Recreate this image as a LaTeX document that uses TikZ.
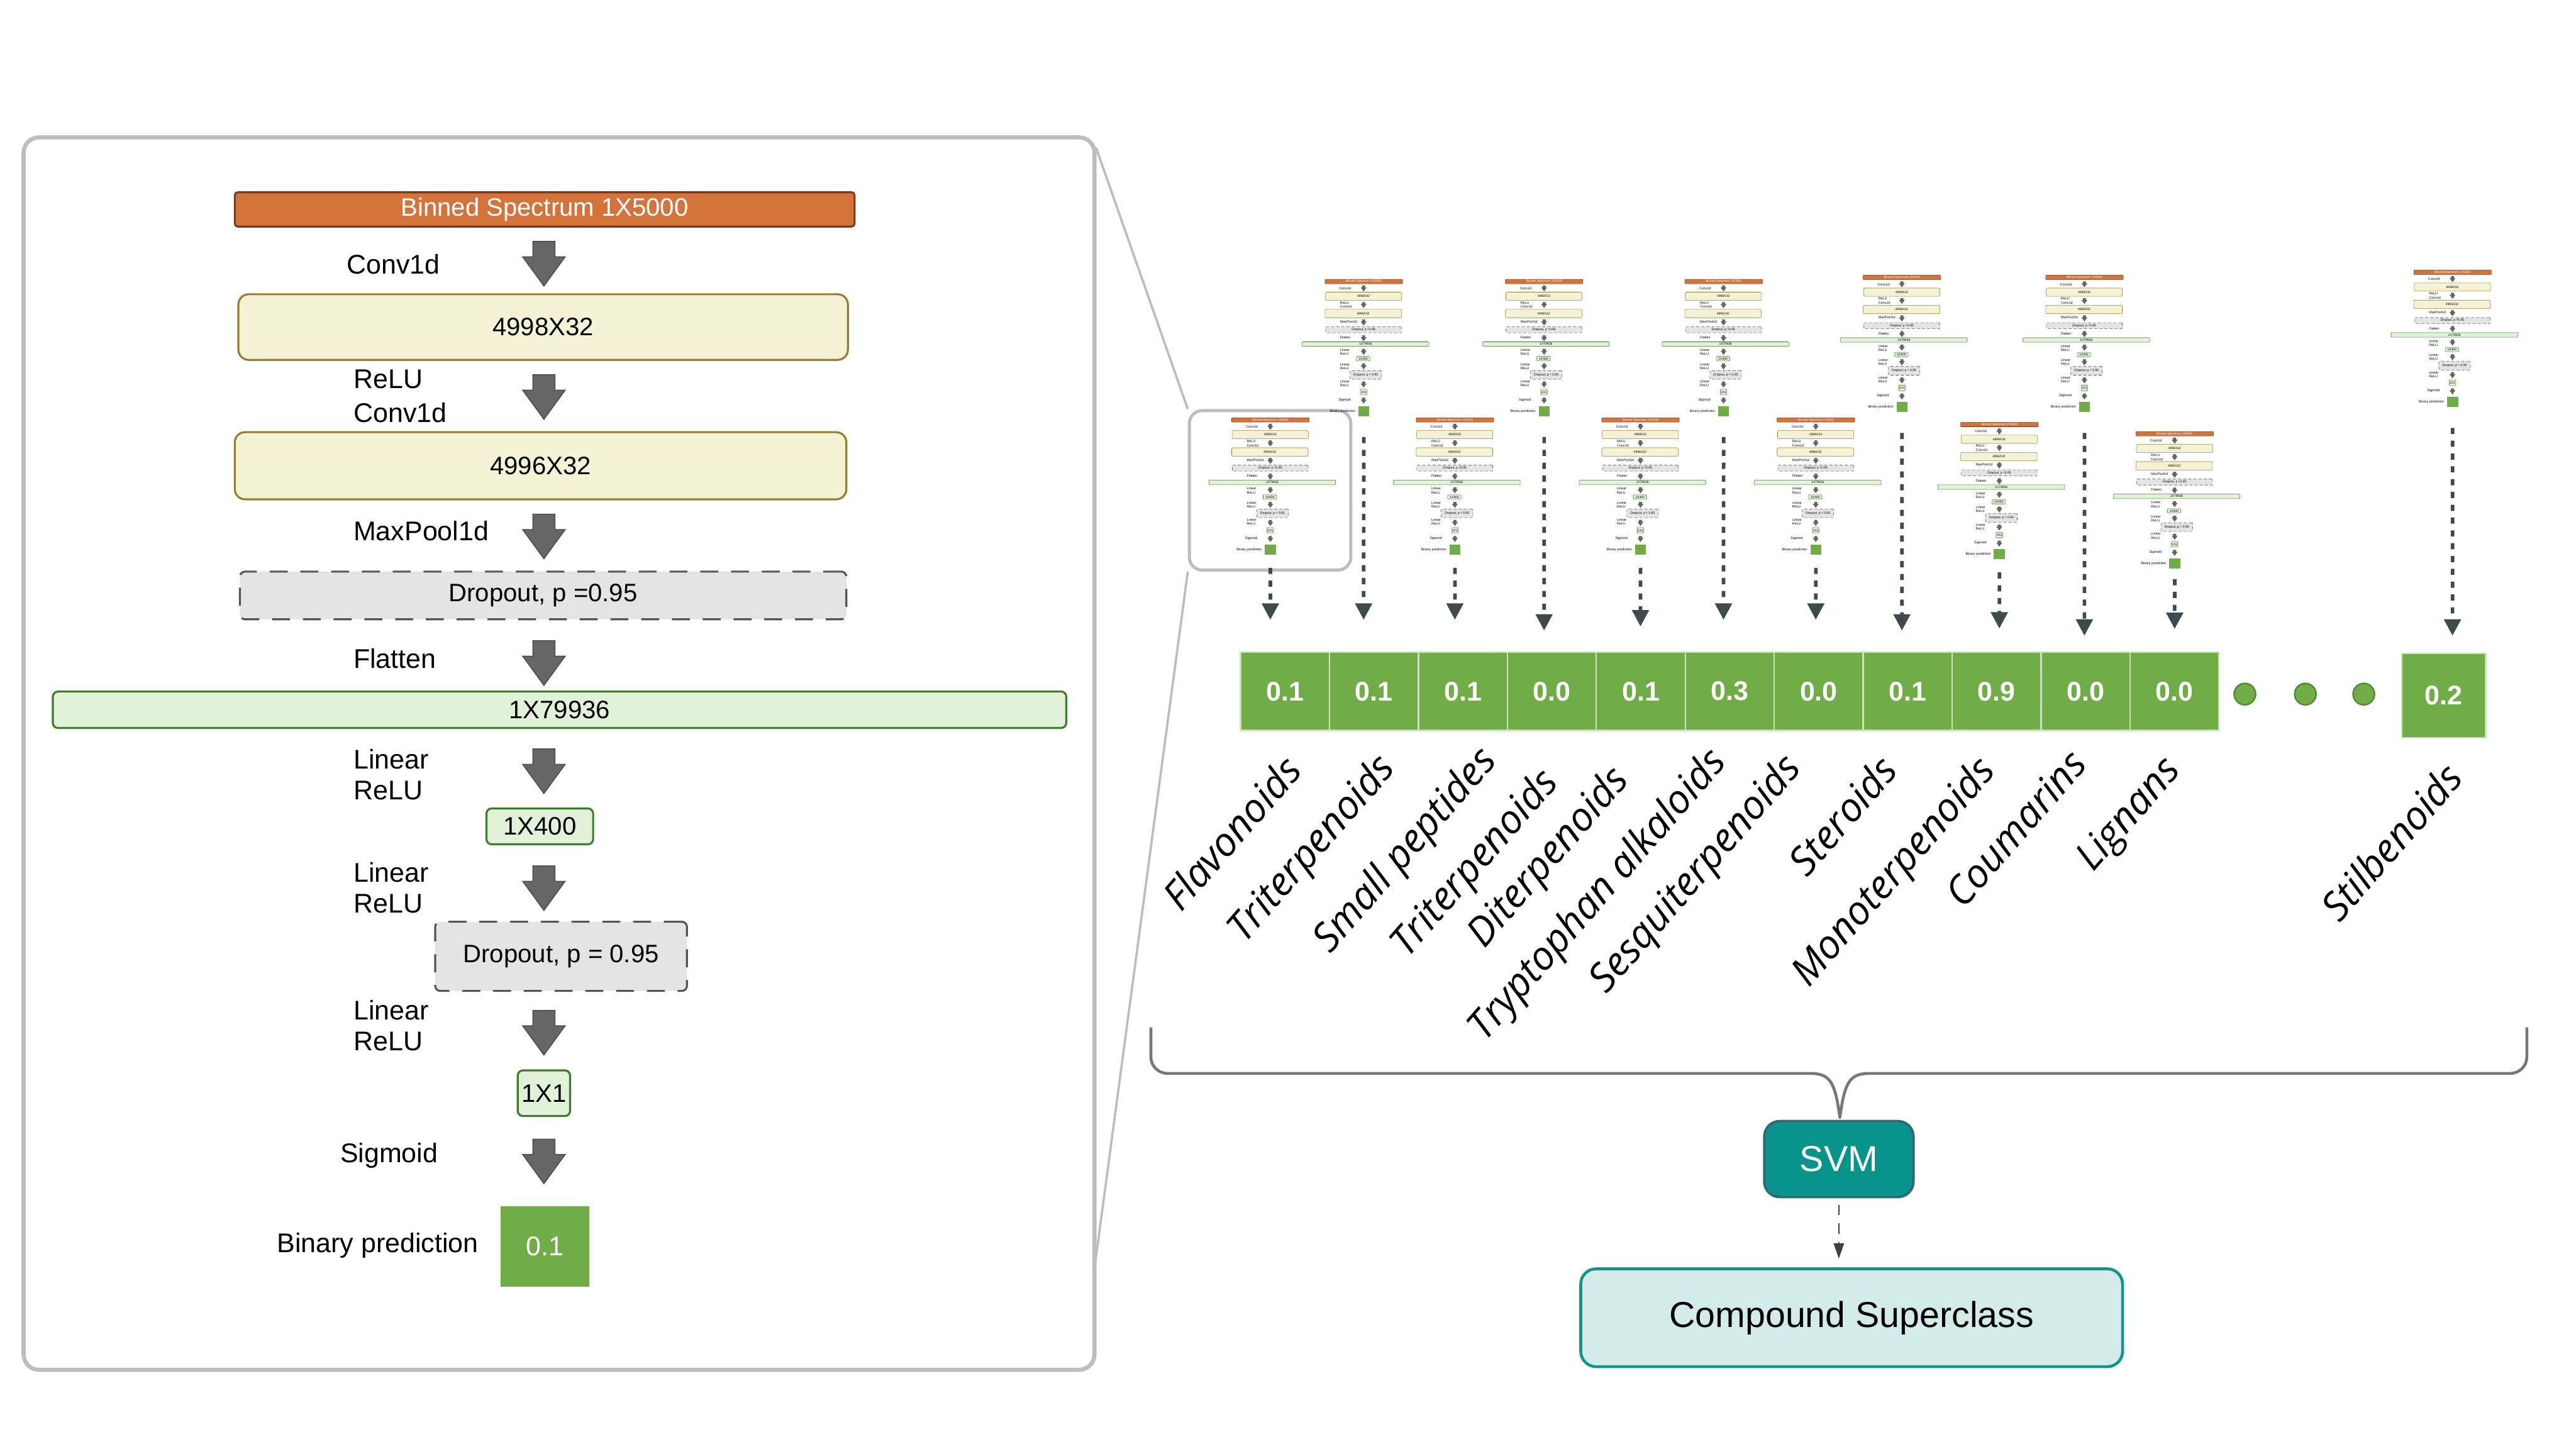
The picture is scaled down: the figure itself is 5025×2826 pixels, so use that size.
\documentclass[tikz,border=0pt]{standalone}
\usepackage{fontspec}
\setmainfont{Liberation Sans}
\newfontfamily\labfont{Open Sans}
\usetikzlibrary{arrows.meta}
\definecolor{orfill}{HTML}{D4733A}
\definecolor{ordraw}{HTML}{7A3B1C}
\definecolor{ylfill}{HTML}{F5F3D6}
\definecolor{yldraw}{HTML}{9A7D2C}
\definecolor{drfill}{HTML}{E4E4E4}
\definecolor{drdraw}{HTML}{555555}
\definecolor{gnfill}{HTML}{E1F2D9}
\definecolor{gndraw}{HTML}{3E7B2C}
\definecolor{bargreen}{HTML}{70AD47}
\definecolor{bardark}{HTML}{4F8A30}
\definecolor{arrgray}{HTML}{666666}
\definecolor{arrdark}{HTML}{4A4A4A}
\definecolor{panelgray}{HTML}{BDBDBD}
\definecolor{dashc}{HTML}{3F4A4A}
\definecolor{svmfill}{HTML}{08948A}
\definecolor{svmdraw}{HTML}{2E6B76}
\definecolor{csfill}{HTML}{D3ECE9}
\definecolor{csdraw}{HTML}{0F968C}
\definecolor{bracegray}{HTML}{777777}
\def\nlw{1.1pt}
\def\ndon{3.5mm}
\def\ndoff{2.5mm}
\def\alw{0.5pt}
\def\nsc{1}
\def\nfa{14}
\def\nfb{15}
\tikzset{
 boxtxt/.style={font=\fontsize{\nfa}{\nfa}\selectfont, inner sep=0pt, align=center},
 orbox/.style={boxtxt, draw=ordraw, fill=orfill, text=white, line width=\nlw, rounded corners=\nsc*0.6mm, minimum width=\nsc*120.9mm, minimum height=\nsc*6.7mm},
 ylbox/.style={boxtxt, draw=yldraw, fill=ylfill, line width=\nlw, rounded corners=\nsc*2mm},
 drbox/.style={boxtxt, draw=drdraw, fill=drfill, line width=\nlw, rounded corners=\nsc*1mm, dash pattern=on \ndon off \ndoff},
 gnbox/.style={boxtxt, draw=gndraw, fill=gnfill, line width=\nlw, rounded corners=\nsc*1mm},
 predbox/.style={inner sep=0pt, fill=bargreen, text=white, minimum width=\nsc*17.2mm, minimum height=\nsc*15.7mm, font=\fontsize{\nfb}{\nfb}\selectfont},
 lbl/.style={anchor=west, inner sep=0pt, font=\fontsize{\nfb}{\nfb}\selectfont},
 arrowblk/.style={fill=arrgray, draw=arrdark, line width=\alw},
 cell/.style={fill=bargreen, draw=white!65!bargreen, line width=0.8pt, text=white, font=\bfseries\fontsize{15}{17}\selectfont, minimum width=17.35mm, minimum height=15.3mm, inner sep=0pt},
 dotc/.style={circle, fill=bargreen, draw=bardark, line width=0.8pt, minimum size=4.2mm, inner sep=0pt},
 clab/.style={font=\labfont\itshape\fontsize{22}{26}\selectfont, rotate=49, anchor=north east, inner sep=0pt},
 darr/.style={draw=dashc, line width=0.7mm, dash pattern=on 1.2mm off 1.3mm, -{Triangle[length=3.2mm,width=3.2mm]}},
 panel/.style={draw=panelgray, line width=0.8mm, rounded corners=3mm},
 zline/.style={draw=panelgray, line width=0.45mm},
 svmbox/.style={fill=svmfill, draw=svmdraw, line width=1.4pt, rounded corners=3mm, text=white, font=\fontsize{20}{24}\selectfont, minimum width=29.1mm, minimum height=14.8mm, inner sep=0pt},
 csbox/.style={fill=csfill, draw=csdraw, line width=1.6pt, rounded corners=3mm, font=\fontsize{20}{24}\selectfont, minimum width=105.7mm, minimum height=19.1mm, inner sep=0pt},
 sdash/.style={draw=black!75, line width=0.9pt, dash pattern=on 2mm off 1.6mm, -{Triangle[length=3mm,width=2mm]}}
}
\newcommand{\netarrow}[1]{%
 \filldraw[arrowblk] (-21.5,#1) -- (21.5,#1) -- (21.5,#1+30) -- (41.5,#1+30) -- (0,#1+87) -- (-41.5,#1+30) -- (-21.5,#1+30) -- cycle;}
\newcommand{\cnnnet}[1]{%
 \node[orbox] (top) at (1.5,33.5) {Binned Spectrum 1X5000};
 \netarrow{96}
 \node[lbl] (l1) at (-385,141) {Conv1d};
 \node[ylbox, minimum width=\nsc*118.9mm, minimum height=\nsc*12.8mm] (c1) at (-1.5,263) {4998X32};
 \netarrow{356}
 \node[lbl] (l2) at (-372,365) {ReLU};
 \node[lbl] (l3) at (-372,430) {Conv1d};
 \node[ylbox, minimum width=\nsc*119.3mm, minimum height=\nsc*13.1mm] (c2) at (-6.5,533.5) {4996X32};
 \netarrow{628}
 \node[lbl] (l4) at (-372,660) {MaxPool1d};
 \node[drbox, minimum width=\nsc*118.3mm, minimum height=\nsc*9.3mm] (d1) at (-1.5,786.5) {Dropout, p =0.95};
 \netarrow{875}
 \node[lbl] (l5) at (-372,910) {Flatten};
 \node[gnbox, minimum width=\nsc*197.7mm, minimum height=\nsc*7.1mm] (fl) at (30.5,1009.5) {1X79936};
 \netarrow{1086}
 \node[lbl] (l6) at (-372,1106) {Linear};
 \node[lbl] (l7) at (-372,1167) {ReLU};
 \node[gnbox, minimum width=\nsc*20.8mm, minimum height=\nsc*7mm] (f1) at (-8,1237) {1X400};
 \netarrow{1314}
 \node[lbl] (l8) at (-372,1327) {Linear};
 \node[lbl] (l9) at (-372,1388) {ReLU};
 \node[drbox, minimum width=\nsc*49.1mm, minimum height=\nsc*13.5mm] (d2) at (33.5,1490.5) {Dropout, p = 0.95};
 \netarrow{1596}
 \node[lbl] (l10) at (-372,1595) {Linear};
 \node[lbl] (l11) at (-372,1657) {ReLU};
 \node[gnbox, minimum width=\nsc*10.2mm, minimum height=\nsc*8.9mm] (f2) at (0,1757.5) {1X1};
 \netarrow{1847}
 \node[lbl] (l12) at (-398,1879) {Sigmoid};
 \node[lbl, anchor=east] (l13) at (-127,2055) {Binary prediction};
 \node[predbox] (pred) at (2,2056.5) {#1};
}
\newcommand{\drawmini}[5]{%
 \begin{scope}[shift={(#2,#3)}, scale=0.125, name prefix=#1-]
 \def\nlw{0.2pt}\def\ndon{0.6mm}\def\ndoff{0.4mm}\def\alw{0.1pt}%
 \def\nsc{0.125}\def\nfa{1.75}\def\nfb{1.875}%
 \cnnnet{}
 \end{scope}
 \coordinate (#1-tip) at (#2,#4);
 \draw[darr, shorten <=#5] (#1-pred.south) -- (#1-tip);
}
\begin{document}
\begin{tikzpicture}[x=0.1mm,y=-0.1mm]
\useasboundingbox (0,0) rectangle (5025,2826);
% left panel
\node[panel, minimum width=208.9mm, minimum height=240.4mm] (pnl) at (1090.5,1470) {};
\begin{scope}[shift={(1061,375)}]
 \cnnnet{0.1}
\end{scope}
% highlight box and zoom lines
\node[draw=panelgray, line width=0.6mm, rounded corners=2.5mm, minimum width=31.5mm, minimum height=31.1mm] (hl) at (2477.5,956.5) {};
\coordinate (zt) at (2138,288);
\coordinate (zb) at (2135,2474);
\draw[zline] (zt) -- (hl.north west);
\draw[zline] (zb) -- (hl.south west);
% mini networks
\drawmini{m1}{2478}{815}{1209}{2.5mm}
\drawmini{m2}{2660}{545}{1209}{4mm}
\drawmini{m3}{2838}{815}{1209}{2.5mm}
\drawmini{m4}{3012}{545}{1230}{4mm}
\drawmini{m5}{3200}{815}{1222}{2.5mm}
\drawmini{m6}{3362}{545}{1209}{4mm}
\drawmini{m7}{3542}{815}{1209}{2.5mm}
\drawmini{m8}{3710}{537}{1230}{4mm}
\drawmini{m9}{3900}{824}{1226}{2.5mm}
\drawmini{m10}{4066}{537}{1240}{4mm}
\drawmini{m11}{4242}{842}{1227}{2mm}
\drawmini{m12}{4784}{527}{1240}{4mm}
% score bar
\node[cell] (s1) at (2506.75,1348.5) {0.1};
\node[cell] (s2) at (2680.25,1348.5) {0.1};
\node[cell] (s3) at (2853.75,1348.5) {0.1};
\node[cell] (s4) at (3027.25,1348.5) {0.0};
\node[cell] (s5) at (3200.75,1348.5) {0.1};
\node[cell] (s6) at (3374.25,1348.5) {0.3};
\node[cell] (s7) at (3547.75,1348.5) {0.0};
\node[cell] (s8) at (3721.25,1348.5) {0.1};
\node[cell] (s9) at (3894.75,1348.5) {0.9};
\node[cell] (s10) at (4068.25,1348.5) {0.0};
\node[cell] (s11) at (4241.75,1348.5) {0.0};
\node[dotc] (dt1) at (4379,1354) {};
\node[dotc] (dt2) at (4497,1354) {};
\node[dotc] (dt3) at (4611,1354) {};
\node[cell, minimum width=16.4mm, minimum height=16.4mm] (s12) at (4767,1357) {0.2};
% class labels
\node[clab] (n1) at (2499,1466) {Flavonoids};
\node[clab] (n2) at (2680,1461) {Triterpenoids};
\node[clab] (n3) at (2878,1446) {Small peptides};
\node[clab] (n4) at (2998,1489) {Triterpenoids};
\node[clab] (n5) at (3136,1484) {Diterpenoids};
\node[clab] (n6) at (3326,1449) {Tryptophan alkaloids};
\node[clab] (n7) at (3472,1461) {Sesquiterpenoids};
\node[clab] (n8) at (3661,1466) {Steroids};
\node[clab] (n9) at (3851,1466) {Monoterpenoids};
\node[clab] (n10) at (4032,1455) {Coumarins};
\node[clab] (n11) at (4213,1466) {Lignans};
\node[clab] (n12) at (4764,1481) {Stilbenoids};
% brace
\draw[bracegray, line width=1.6pt, line join=round] (2245,2004) -- (2245,2062) to[out=-90,in=180] (2278,2094) -- (3533,2094) .. controls (3572,2094) and (3580,2115) .. (3589,2180) .. controls (3598,2115) and (3606,2094) .. (3645,2094) -- (4896,2094) to[out=0,in=-90] (4929,2062) -- (4929,2004);
% SVM and output
\node[svmbox] (svm) at (3587,2261) {SVM};
\node[csbox] (cs) at (3612,2570.5) {Compound Superclass};
\draw[sdash, shorten <=1.3mm, shorten >=1.7mm] (svm.south) -- (svm.south |- cs.north);
\end{tikzpicture}
\end{document}
